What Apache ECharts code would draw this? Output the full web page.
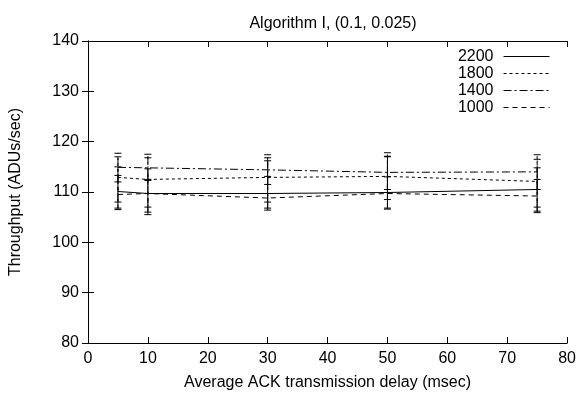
<!DOCTYPE html>
<html>
<head>
<meta charset="utf-8">
<script src="https://cdn.jsdelivr.net/npm/echarts@6/dist/echarts.min.js"></script>
<style>html,body{margin:0;padding:0;background:#fff}#c{width:579px;height:396px}</style>
</head>
<body>
<div id="c"></div>
<script>
var delays = [5, 10, 30, 50, 75];
var seriesNames = ['2200', '1800', '1400', '1000'];
var thr2200 = [110.1, 109.7, 109.7, 109.9, 110.5];
var thr1800 = [112.9, 112.5, 112.9, 113.1, 112.1];
var thr1400 = [114.9, 114.8, 114.4, 113.9, 114.0];
var thr1000 = [109.5, 109.7, 108.8, 109.7, 109.2];
var low2200 = [106.8, 105.5, 106.4, 106.6, 106.2];
var high2200 = [115.0, 114.6, 116.2, 117.1, 114.8];
var low1800 = [108.0, 107.0, 108.0, 108.5, 107.0];
var high1800 = [117.7, 117.5, 117.4, 117.8, 117.4];
var low1400 = [112.0, 112.5, 111.5, 110.5, 110.5];
var high1400 = [117.0, 116.8, 116.8, 117.0, 116.5];
var low1000 = [106.5, 106.0, 106.8, 106.8, 105.9];
var high1000 = [113.3, 112.3, 113.1, 113.0, 112.5];
var yTicks = [80, 90, 100, 110, 120, 130, 140];
var xTicks = [0, 10, 20, 30, 40, 50, 60, 70, 80];

var values = [thr2200, thr1800, thr1400, thr1000];
var lows = [low2200, low1800, low1400, low1000];
var highs = [high2200, high1800, high1400, high1000];
var dashes = ['solid', [3, 3], [8, 3, 2, 3], [5, 4]];
var canvasDash = [null, [3, 3], [8, 3, 2, 3], [5, 4]];

var font = 'Liberation Sans, Arial, sans-serif';
var fs = 16;
var series = [];
seriesNames.forEach(function (n, i) {
  series.push({
    name: n, type: 'line', symbol: 'none', showSymbol: false,
    data: delays.map(function (d, k) { return [d, values[i][k]]; }),
    lineStyle: { color: '#000', width: 1, type: dashes[i] },
    itemStyle: { color: '#000' },
    z: 3
  });
  series.push({
    name: n + ' err', type: 'custom',
    data: delays.map(function (d, k) { return [d, lows[i][k], highs[i][k]]; }),
    renderItem: function (params, api) {
      var lo = api.coord([api.value(0), api.value(1)]);
      var hi = api.coord([api.value(0), api.value(2)]);
      var w = 3.5;
      var st = { stroke: '#000', lineWidth: 1, lineDash: canvasDash[i] };
      return { type: 'group', children: [
        { type: 'line', shape: { x1: lo[0], y1: lo[1], x2: hi[0], y2: hi[1] }, style: st },
        { type: 'line', shape: { x1: lo[0] - w, y1: lo[1], x2: lo[0] + w, y2: lo[1] }, style: { stroke: '#000', lineWidth: 1 } },
        { type: 'line', shape: { x1: hi[0] - w, y1: hi[1], x2: hi[0] + w, y2: hi[1] }, style: { stroke: '#000', lineWidth: 1 } }
      ]};
    },
    z: 4, silent: true
  });
});

var chart = echarts.init(document.getElementById('c'), null, { renderer: 'canvas' });
chart.setOption({
  animation: false,
  backgroundColor: '#fff',
  title: { text: 'Algorithm I, (0.1, 0.025)', left: 328, textAlign: 'center', top: 11,
    textStyle: { fontFamily: font, fontSize: fs, fontWeight: 'normal', color: '#000' } },
  legend: {
    data: seriesNames, orient: 'vertical', right: 24, top: 43, align: 'right',
    itemWidth: 46, itemHeight: 10, itemGap: 0,
    itemStyle: { opacity: 0, borderWidth: 0 },
    lineStyle: { width: 1, color: '#000' },
    textStyle: { fontFamily: font, fontSize: fs, lineHeight: 17, color: '#000', padding: [0, 5, 0, 0] },
    selectedMode: false
  },
  grid: { left: 87, right: 10, top: 41, bottom: 48 },
  xAxis: [{
    type: 'value', min: 0, max: 80, interval: 10,
    name: 'Average ACK transmission delay (msec)', nameLocation: 'middle', nameGap: 32,
    nameTextStyle: { fontFamily: font, fontSize: fs, color: '#000' },
    axisLine: { lineStyle: { color: '#000', width: 1 } },
    axisTick: { inside: true, length: 6, lineStyle: { color: '#000' } },
    axisLabel: { fontFamily: font, fontSize: fs, color: '#000', margin: 8,
      formatter: function (v) { return xTicks.indexOf(v) >= 0 ? String(v) : ''; } },
    splitLine: { show: false }
  }, {
    type: 'value', position: 'top', min: 0, max: 80, interval: 10,
    axisLine: { show: true, lineStyle: { color: '#000', width: 1 } },
    axisTick: { inside: true, length: 6, lineStyle: { color: '#000' } },
    axisLabel: { show: false }, splitLine: { show: false }
  }],
  yAxis: [{
    type: 'value', min: 80, max: 140, interval: 10,
    name: 'Throughput (ADUs/sec)', nameLocation: 'middle', nameGap: 64,
    nameTextStyle: { fontFamily: font, fontSize: fs, color: '#000' },
    axisLine: { show: true, lineStyle: { color: '#000', width: 1 } },
    axisTick: { show: true, inside: true, length: 6, lineStyle: { color: '#000' } },
    axisLabel: { fontFamily: font, fontSize: fs, color: '#000', margin: 9,
      formatter: function (v) { return yTicks.indexOf(v) >= 0 ? String(v) : ''; } },
    splitLine: { show: false }
  }, {
    type: 'value', position: 'right', min: 80, max: 140, interval: 10,
    axisLine: { show: true, lineStyle: { color: '#000', width: 1 } },
    axisTick: { show: true, inside: true, length: 6, lineStyle: { color: '#000' } },
    axisLabel: { show: false }, splitLine: { show: false }
  }],
  series: series
});
</script>
</body>
</html>
